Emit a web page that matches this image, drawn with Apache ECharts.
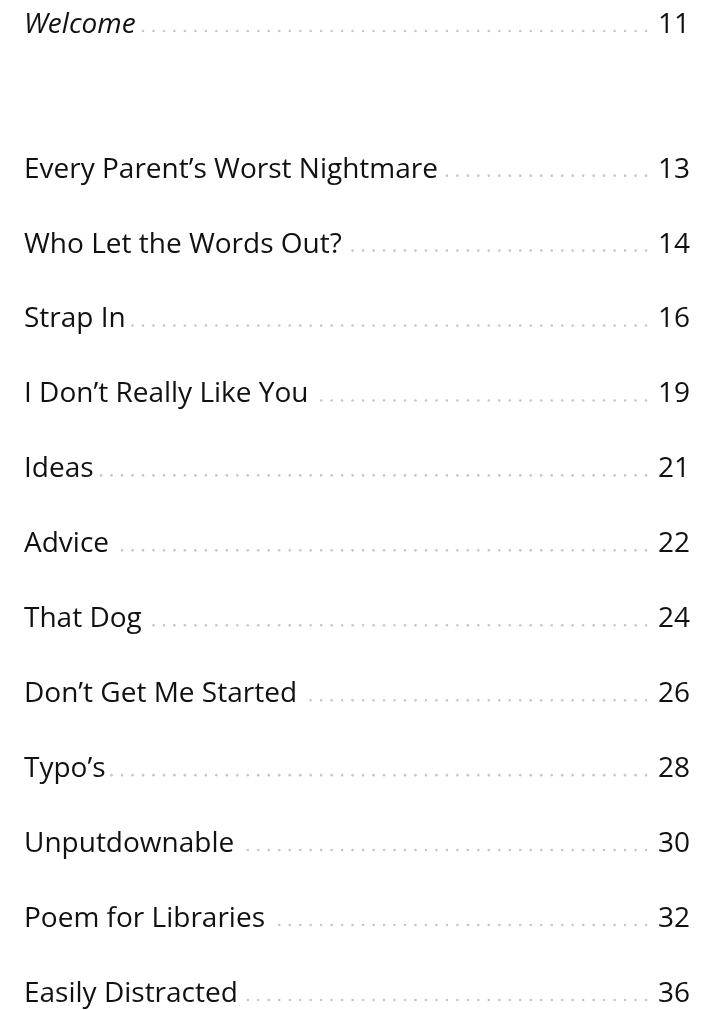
<!DOCTYPE html>
<html>
<head>
<meta charset="utf-8">
<title>Contents</title>
<script src="https://cdn.jsdelivr.net/npm/echarts@6/dist/echarts.min.js"></script>
<style>
  html, body { margin: 0; padding: 0; background: #fff; }
  #toc { width: 711px; height: 1010px; }
</style>
</head>
<body>
<div id="toc"></div>
<script>
// front matter (italic) and chapters, with their page numbers
const introTitles = ['Welcome'];
const introPages = [11];
const chapterTitles = [
  'Every Parent\u2019s Worst Nightmare',
  'Who Let the Words Out?',
  'Strap In',
  'I Don\u2019t Really Like You',
  'Ideas',
  'Advice',
  'That Dog',
  'Don\u2019t Get Me Started',
  'Typo\u2019s',
  'Unputdownable',
  'Poem for Libraries',
  'Easily Distracted'
];
const chapterPages = [13, 14, 16, 19, 21, 22, 24, 26, 28, 30, 32, 36];

const SECTION_GAP = 1.93;   // empty space (in rows) between the intro and the chapters
const FONT_SIZE = 28;
const FONT_FAMILY = '"Open Sans", "Noto Sans", sans-serif';
const DOT_STEP = 10.48;     // leader dots sit on a fixed tab grid
const DOT_PHASE = 6.76;

// rows: [rowIndex, title, page, italic]
const rows = [];
introTitles.forEach((t, i) => rows.push([i, t, introPages[i], 1]));
chapterTitles.forEach((t, i) => rows.push([i + SECTION_GAP, t, chapterPages[i], 0]));
const lastRow = chapterTitles.length - 1 + SECTION_GAP;

const measureCtx = document.createElement('canvas').getContext('2d');
function textWidth(str, italic) {
  measureCtx.font = (italic ? 'italic ' : '') + FONT_SIZE + 'px ' + FONT_FAMILY;
  return measureCtx.measureText(str).width;
}

function renderRow(params, api) {
  const row = api.value(0);
  const r = rows[params.dataIndex];
  const title = r[1];
  const page = String(r[2]);
  const italic = r[3] === 1;
  const left = api.coord([0, row]);
  const right = api.coord([1, row]);
  const y = left[1];
  const font = (italic ? 'italic ' : '') + FONT_SIZE + 'px ' + FONT_FAMILY;

  const titleEnd = left[0] + textWidth(title, italic);
  const pageStart = right[0] - textWidth(page, false);
  const children = [
    {
      type: 'text',
      style: { text: title, x: left[0], y: y + 2, font: font, fill: '#111', align: 'left', verticalAlign: 'middle' }
    },
    {
      type: 'text',
      style: { text: page, x: right[0], y: y + 2, font: FONT_SIZE + 'px ' + FONT_FAMILY, fill: '#111', align: 'right', verticalAlign: 'middle' }
    }
  ];
  // dots between title and page number
  let k = Math.ceil((titleEnd + 5 - DOT_PHASE) / DOT_STEP);
  for (;; k++) {
    const dx = DOT_PHASE + k * DOT_STEP;
    if (dx > pageStart - 4) break;
    children.push({
      type: 'circle',
      shape: { cx: dx, cy: y + 8, r: 1.3 },
      style: { fill: '#c6c6c6' }
    });
  }
  return { type: 'group', children: children };
}

const chart = echarts.init(document.getElementById('toc'));
chart.setOption({
  animation: false,
  grid: { left: 24, right: 21, top: 23, bottom: 18 },
  xAxis: { type: 'value', min: 0, max: 1, show: false },
  yAxis: { type: 'value', min: 0, max: lastRow, inverse: true, show: false },
  series: [
    {
      type: 'custom',
      renderItem: renderRow,
      data: rows.map(r => [r[0]]),
      silent: true
    }
  ]
});
</script>
</body>
</html>
